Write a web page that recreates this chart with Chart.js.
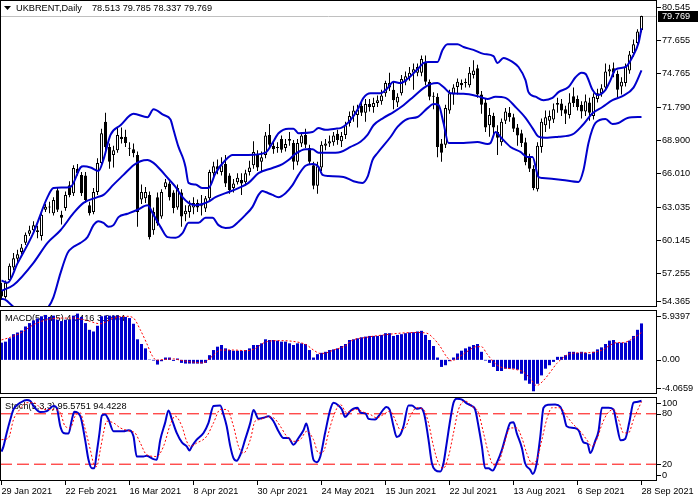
<!DOCTYPE html>
<html>
<head>
<meta charset="utf-8">
<script src="https://cdn.jsdelivr.net/npm/chart.js@4.4.1/dist/chart.umd.min.js"></script>
<style>
  body { margin: 0; background: #fff; }
  #wrap { position: relative; width: 699px; height: 500px; overflow: hidden; }
  canvas { position: absolute; left: 0; }
</style>
</head>
<body>
<div id="wrap">
  <canvas id="priceChart" width="699" height="308" style="top:0px"></canvas>
  <canvas id="macdChart" width="699" height="86" style="top:309px"></canvas>
  <canvas id="stochChart" width="699" height="104" style="top:396px"></canvas>
</div>
<script>
// daily bars, 29 Jan 2021 .. 28 Sep 2021 (index 0..160)
const opens = [55.8,55.15,56.65,57.75,58.5,59.1,59.9,60.7,61.0,61.0, 60.5,62.8,63.0,62.5,64.5,62.35,62.95,64.95,64.25,66.4,
  65.85,65.8,63.2,62.6,64.35,66.9,70.5,68.3,67.6,68.0, 69.2,69.2,68.2,68.1,67.6,63.7,63.8,64.1,61.0,63.9,
  62.2,64.8,65.1,64.3,63.0,64.3,62.4,62.6,63.0,63.4, 63.1,62.9,63.8,66.0,66.6,66.1,66.8,65.8,64.7,65.2,
  65.4,65.2,66.1,66.7,67.6,67.0,67.6,69.35,68.4,68.2, 69.0,68.2,68.85,68.65,67.0,68.6,69.35,68.2,66.7,64.9,
  66.5,68.4,68.6,68.7,69.45,68.8,69.35,70.4,71.0,71.1, 71.9,71.3,72.05,71.8,72.15,72.3,73.0,73.5,73.3,72.2,
  73.0,74.0,74.4,74.8,74.8,74.8,75.7,74.0,72.75,72.7, 68.6,68.5,71.5,72.9,73.55,73.9,73.9,73.7,74.6,75.2,
  72.9,72.2,70.2,71.0,69.6,68.7,70.6,71.3,70.9,70.0, 69.5,68.7,67.4,66.4,64.6,68.3,70.2,70.6,70.7,72.15,
  72.1,71.6,71.1,72.75,72.5,72.0,71.4,72.2,71.0,72.5, 73.0,73.5,74.9,75.2,74.7,73.6,73.9,75.0,76.5,77.4,
  78.513];
const highs = [56.4,56.6,58.1,59.0,59.3,59.8,60.8,61.4,61.8,61.4, 62.6,63.3,63.5,63.9,64.8,62.7,64.4,65.3,66.7,66.8,
  66.1,66.1,63.5,64.7,67.3,69.9,71.3,68.6,68.4,70.0, 70.0,69.8,68.7,68.6,67.9,65.0,64.8,64.4,63.0,64.3,
  64.6,65.5,65.3,64.5,65.0,64.6,63.2,63.6,63.9,63.7, 64.1,64.0,66.3,67.0,67.2,67.4,67.6,66.0,65.5,66.0,
  66.0,66.3,67.1,68.8,68.0,67.9,69.6,70.3,68.8,68.7, 69.3,69.0,69.6,68.9,69.0,69.6,69.9,68.5,67.0,67.0,
  68.8,69.0,69.3,69.6,69.8,69.6,70.5,71.4,71.9,72.0, 72.2,72.5,72.5,72.6,72.8,73.3,74.1,74.8,74.0,73.0,
  74.6,74.9,75.3,75.6,75.6,76.3,76.3,74.2,73.1,73.0, 69.0,72.0,73.3,73.8,74.3,74.2,74.3,75.3,75.9,75.5,
  73.2,72.5,71.7,71.3,70.2,70.8,71.7,71.8,71.2,70.3, 69.8,69.1,67.7,66.7,68.7,70.8,71.5,71.5,72.1,72.6,
  72.5,71.9,73.0,73.5,72.8,72.3,72.9,72.6,73.0,73.4, 73.8,75.6,75.5,75.7,75.0,74.4,75.6,76.7,77.7,78.6,
  79.785];
const lows = [54.9,55.0,56.5,57.5,58.2,58.9,59.7,60.5,60.8,60.3, 60.1,62.6,62.5,62.3,62.6,61.5,62.7,63.9,64.0,65.8,
  64.0,63.4,62.3,62.4,64.1,66.6,68.0,66.4,66.5,67.8, 68.6,68.3,67.5,67.4,61.3,63.3,63.4,60.2,60.6,61.4,
  62.0,64.6,63.6,62.5,62.8,61.3,61.8,62.1,62.4,62.6, 62.3,62.6,63.6,65.7,65.9,65.8,64.8,64.2,64.3,65.0,
  64.1,64.9,65.8,66.4,66.2,66.1,67.3,68.2,67.7,67.8, 67.8,67.9,68.4,66.3,66.7,68.3,68.2,66.8,64.6,64.2,
  66.2,68.0,68.3,68.4,68.5,68.3,69.0,70.1,70.5,70.0, 71.0,70.5,71.4,71.3,71.8,72.0,72.7,73.2,71.6,71.8,
  72.8,73.7,74.1,73.3,74.5,74.5,73.7,72.4,71.6,67.4, 67.0,68.2,71.2,72.0,72.9,73.3,73.5,73.5,74.3,72.6,
  71.2,69.6,69.2,69.3,67.6,68.4,70.3,70.5,69.6,68.4, 68.3,66.7,66.1,64.5,64.4,67.8,69.6,69.9,70.4,71.3,
  71.0,70.3,70.8,71.8,71.5,70.8,71.0,70.6,70.7,72.2, 72.7,73.2,74.5,74.4,72.6,72.9,73.6,74.7,76.2,77.1,
  78.337];
const closes = [55.2,56.4,57.9,58.55,58.9,59.5,60.6,61.0,61.45,60.85, 62.35,63.05,63.05,63.65,62.8,62.1,64.1,64.1,66.45,66.0,
  64.25,63.65,62.5,64.35,66.9,69.5,68.3,67.0,68.0,69.35, 69.0,68.65,68.15,67.75,62.6,64.35,64.35,60.4,62.6,61.6,
  64.35,65.2,63.9,62.95,64.7,62.2,62.7,63.2,63.4,63.0, 63.2,63.8,66.1,66.6,66.3,66.7,65.1,64.5,65.1,65.6,
  65.1,66.0,66.5,67.85,66.5,67.4,69.3,68.5,68.1,68.2, 68.05,68.55,69.0,67.0,68.65,69.3,68.5,67.0,64.9,66.6,
  68.5,68.6,68.8,69.3,68.9,69.25,70.2,71.0,71.5,71.55, 71.3,72.05,71.8,72.15,72.4,72.8,73.9,73.9,72.4,72.7,
  74.25,74.5,74.8,75.1,75.3,76.0,74.0,72.7,72.7,68.3, 67.8,71.7,73.0,73.5,74.0,73.7,73.9,74.8,75.0,72.9,
  72.0,70.0,71.1,70.0,69.1,70.5,71.4,70.9,69.9,69.3, 68.65,66.95,66.4,64.7,68.4,70.5,70.9,71.0,71.6,72.0,
  71.5,71.2,72.2,72.15,71.8,71.4,72.3,71.3,72.7,73.0, 73.45,74.9,75.1,74.8,73.3,74.0,75.3,76.4,77.3,78.4,
  79.769];

// Bollinger bands: [bar index, price]
const upperBand = [[0,56.6],[1.5,56.4],[4,58.1],[8,60.8],[11.5,63.9],[13,64.7],[17.25,64.8],[19.75,66.5],[20.5,66.6],[22.25,66.5],
  [24.25,66.2],[25.5,67.2],[27.25,69.35],[29.75,70.2],[33,71.2],[36.5,70.9],[38,71.6],[40.5,71.1],[42.25,70.7],[43,69.8],
  [44.25,68.3],[45.5,67.2],[46,66.55],[46.75,65.15],[48.5,65.0],[50.25,64.7],[51.75,64.7],[53.5,66.0],[56,67.15],[57.75,67.6],
  [61.75,67.6],[66,67.8],[67.75,68.65],[69.25,69.5],[71.75,69.9],[73,69.9],[74.25,69.5],[77.75,69.6],[79.25,69.95],[81,69.8],
  [83.5,69.9],[84.75,69.95],[87.25,70.65],[89,71.55],[90.5,72.6],[92.25,73.0],[94.75,73.0],[96.5,73.45],[98,74.0],[99.75,73.9],
  [101.5,74.25],[104,75.1],[105.5,75.65],[106.75,75.75],[109,75.75],[110.25,76.8],[111.5,77.3],[114,77.3],[115.5,77.05],[118,76.8],
  [120.5,76.45],[123,76.25],[124,75.65],[125.5,76.1],[127.75,75.75],[129.25,75.3],[131,74.15],[131.75,73.1],[133.5,72.7],[135.5,72.4],
  [137.75,72.6],[139.25,73.1],[141.75,73.55],[143.5,74.4],[145,74.8],[146,74.7],[147.75,73.3],[149,72.85],[151,73.3],[152.25,74.15],
  [153.5,75.1],[156,75.3],[157.75,76.2],[159.25,77.4],[160,78.7]];
const middleBand = [[0,55.7],[3,56.2],[8,58.15],[11.5,59.9],[14.75,61.0],[18,62.5],[20.5,63.4],[24,63.9],[25.5,64.1],[28,65.0],
  [30.5,65.85],[33,66.7],[34.75,67.05],[36.5,67.15],[38,66.9],[39.75,66.3],[41.5,65.6],[43.5,64.8],[45.25,63.9],[46.75,63.4],
  [48.5,63.2],[50.25,63.3],[51.75,63.5],[53.5,63.9],[56,64.25],[59.25,64.7],[61.75,65.15],[64.25,66.0],[67.75,66.45],[70.25,66.8],
  [71.75,67.15],[73.5,67.7],[76,68.1],[77.75,68.1],[79.25,67.8],[83.5,67.8],[84.75,67.85],[87.25,68.3],[89.75,68.75],[91.5,69.35],
  [93,70.2],[95.5,70.85],[98,71.35],[100.5,71.95],[103,72.7],[105.5,73.45],[107.25,73.8],[109,73.9],[110.5,73.55],[112.25,73.0],
  [115.5,72.95],[119,72.75],[121.5,72.5],[123.5,72.7],[126,72.6],[128.5,71.8],[131,70.85],[132.75,69.95],[134.25,69.2],[136,69.1],
  [139.25,69.2],[142.75,69.4],[145.25,70.2],[147.75,71.25],[150.25,71.8],[152.75,72.4],[155.25,72.75],[158,73.5],[160,75.0]];
const lowerBand = [[0,55.0],[1,54.9],[3,54.3],[6,53.8],[9,53.8],[11.75,54.3],[13,55.15],[14.75,57.25],[16.5,59.0],[18,59.55],
  [19.75,59.9],[21.5,60.4],[23,61.45],[24.25,61.8],[25.5,61.65],[26.75,61.3],[28,61.45],[29.25,62.15],[31.5,62.45],[34,62.8],
  [36.5,63.2],[38,62.35],[39.75,61.3],[41.5,60.4],[43.5,60.35],[45.25,60.75],[46.75,61.65],[49.25,61.65],[51,62.1],[52.75,62.1],
  [54.25,61.45],[56,61.2],[57.75,61.3],[59.25,61.75],[61,62.35],[62.75,63.05],[64.25,64.1],[65.25,64.45],[66,64.35],[67.75,64.1],
  [69.25,63.9],[71,64.25],[72.75,64.95],[74.25,65.85],[76,66.65],[77.75,66.8],[79.25,66.55],[80.25,65.85],[81.75,65.75],[85.5,65.67],
  [88,65.3],[90.25,65.15],[91.5,65.67],[92.75,67.15],[94,67.77],[97.25,69.17],[99,70.05],[101.5,70.75],[104,70.92],[106.5,71.7],
  [108,72.06],[109.25,71.98],[110.5,70.4],[111.75,68.65],[115.5,68.65],[119,68.73],[121.5,68.56],[122.25,68.65],[123.5,69.61],[124.75,69.17],
  [127.25,68.3],[129.75,67.86],[131.5,67.42],[132.75,67.42],[134.25,65.67],[135.25,65.58],[140.25,65.41],[144.25,65.23],[145.5,66.28],[146.75,68.65],
  [148.5,70.4],[151,70.75],[152.75,70.31],[154.25,70.4],[156.5,70.84],[160,70.92]];

// MACD histogram, one value per bar
const macd = [2.05,2.17,2.57,3.06,3.26,3.50,3.98,4.38,4.70,4.94, 5.19,5.35,5.11,5.27,4.78,4.62,4.78,4.78,5.27,5.51,
  5.11,4.38,3.58,3.38,4.06,5.19,5.27,5.27,5.27,5.27, 5.11,5.11,4.98,4.30,2.45,1.89,1.37,0.04,-0.08,-0.56,
  -0.16,0.28,0.28,-0.12,0.16,-0.36,-0.44,-0.44,-0.44,-0.44, -0.44,-0.36,0.56,1.17,1.57,1.77,1.37,1.17,1.09,1.09,
  1.09,1.17,1.37,1.77,1.77,1.97,2.45,2.37,2.37,2.29, 2.17,2.17,1.97,1.77,1.97,1.97,1.89,1.17,0.28,0.68,
  0.84,0.96,1.17,1.25,1.37,1.65,1.89,2.37,2.45,2.57, 2.69,2.77,2.85,2.85,2.85,2.97,3.18,3.18,2.85,2.97,
  3.06,3.18,3.26,3.30,3.38,3.46,2.97,2.37,1.65,0.28, -0.84,-0.64,-0.16,0.28,0.76,1.09,1.37,1.57,1.77,1.89,
  0.96,-0.08,-0.36,-0.84,-1.33,-1.33,-1.05,-1.05,-1.05,-1.17, -1.65,-2.45,-2.85,-3.74,-2.85,-1.85,-1.05,-0.64,-0.24,0.36,
  0.36,0.56,0.96,0.96,0.84,0.96,0.84,0.68,0.96,1.25, 1.49,1.89,2.29,2.37,2.05,2.05,2.05,2.29,2.85,3.58,
  4.3416];
const macdSignal = [[0,2.37],[2.2,2.69],[4.7,3.18],[8,4.18],[11.3,4.78],[14.7,4.98],[18,4.98],[21.3,4.70],[24.7,4.30],[28,4.98],
  [31.3,5.19],[33,4.98],[34.7,3.58],[36.3,1.97],[37.6,0.56],[38.8,-0.04],[40.5,0.04],[43,0.12],[44.7,-0.04],[48,-0.28],
  [50.5,-0.36],[51.3,-0.12],[53,0.56],[54.7,1.17],[58,1.17],[61.3,1.09],[63,1.25],[66.3,2.17],[69.7,2.29],[74.7,2.05],
  [76.3,1.77],[78,1.17],[79.7,0.76],[81.3,0.84],[83,1.17],[86.3,1.77],[87.2,2.2],[91.3,2.69],[95.5,2.97],[99.7,3.18],
  [103.8,3.26],[106.3,3.18],[108,2.57],[109.7,1.57],[111.3,0.36],[112.6,-0.12],[113.8,0.16],[116.3,0.96],[118.8,1.57],[120,1.57],
  [121.3,0.76],[123,-0.24],[124.7,-0.84],[127.2,-1.05],[128.8,-1.17],[130.5,-1.45],[132.2,-2.25],[133.8,-3.06],[135.5,-2.45],[137.2,-1.45],
  [138.8,-0.44],[140.5,0.28],[142.2,0.76],[145.5,0.84],[148.8,0.96],[150.5,1.25],[152.2,1.77],[153.8,2.05],[155.5,2.05],[157.2,2.37],
  [160,3.2464]];

// Stochastic %K and %D
const stochMain = [[0,35],[0.5,41.2],[1.3,57.2],[2.2,73.2],[3,85.2],[3.8,90],[4.7,93.2],[6.3,96.4],[7.2,95.2],[8,89.2],
  [9.7,82],[11.3,83.2],[13,89.2],[13.8,87.2],[14.7,65.2],[15.5,57.2],[16.75,56.4],[17.6,73.2],[18.2,82.4],[19.7,77.2],
  [20.9,49.2],[21.75,25.2],[22.6,15.2],[23.2,15.2],[23.8,33.2],[24.5,57.2],[25.1,78],[25.9,79.2],[26.75,73.2],[28,59.2],
  [30.5,59.2],[31.75,60.4],[33,53.2],[33.8,29.2],[35.5,29.2],[36.3,30],[38,26],[38.8,25.2],[39.7,49.2],[40.9,69.2],
  [41.75,84],[42.6,73.2],[43.8,57.2],[45.1,46],[46.3,41.2],[47,36.4],[47.6,41.2],[48.8,49.2],[50.5,57.2],[51.75,69.2],
  [53,89.2],[54.7,90],[55.5,79.2],[56.3,65.2],[57.2,41.2],[58,27.2],[58.8,24],[59.7,31.2],[60.9,49.2],[62.2,69.2],
  [63,84.4],[64.25,74],[65.5,75.2],[66.75,77.2],[68,71.2],[69.25,59.2],[70.5,51.2],[71.75,51.2],[73,43.2],[74.25,51.2],
  [75.5,60.4],[76.2,68.4],[77,53.2],[78,25.2],[78.8,22.4],[79.7,29.2],[80.9,57.2],[82.2,85.2],[83,93.2],[84.25,90],
  [85.1,85.2],[85.9,76.4],[87.2,83.2],[88,86],[89,87.2],[89.8,81.2],[91,80.4],[91.75,74],[93.4,73.2],[94.25,77.2],
  [95.5,85.2],[96.2,88],[97,85.2],[98,65.2],[98.8,52.4],[99.7,55.2],[100.5,65.2],[101.75,90],[102.6,90],[103.8,86],
  [104.8,86.8],[105.7,79.2],[106.75,49.2],[107.6,21.2],[108.4,13.2],[109.7,11.2],[110.5,21.2],[111.3,45.2],[112.2,73.2],[113,93.2],
  [113.8,98],[115,97.2],[116.3,92.4],[117.6,89.2],[118.4,85.2],[119.25,65.2],[120.1,41.2],[120.9,15.2],[121.75,15.2],[122.8,12.4],
  [123.8,21.2],[125.1,37.2],[126.3,57.2],[127.2,69.2],[128,70],[128.8,57.2],[130.1,39.2],[130.9,21.2],[132.2,13.2],[132.8,8.4],
  [133.8,21.2],[134.7,53.2],[135.5,87.2],[136.75,90.8],[138.4,91.2],[139.7,88.4],[140.5,79.2],[141.3,65.2],[143,63.2],[144.25,60.4],
  [145.5,46],[146.5,44.4],[147.2,33.2],[148.4,47.2],[149.25,59.2],[150.1,87.2],[151.75,87.2],[153,85.2],[153.8,67.2],[154.8,48.4],
  [155.9,50],[157,71.2],[158,93.2],[158.8,94],[160,95.5751]];
const stochSignal = [[0,49.2],[1.75,51.2],[3,73.2],[4.25,83.2],[6.3,93.2],[8,93.2],[10.5,85.2],[13,85.2],[14.7,81.2],[15.9,65.2],
  [17.2,63.2],[18.4,77.2],[19.7,81.2],[20.5,69.2],[22.2,37.2],[23,21.2],[23.8,17.2],[24.7,37.2],[25.5,57.2],[26.3,71.2],
  [28,69.2],[29.7,63.2],[32.2,59.2],[33.4,57.2],[34.7,45.2],[36.3,31.2],[38.8,29.2],[40.5,41.2],[42.2,67.2],[43.4,77.2],
  [45.1,65.2],[46.3,47.2],[47.2,41.2],[48.8,45.2],[51.3,53.2],[53,69.2],[54.7,85.2],[56.3,85.2],[58,65.2],[59.25,41.2],
  [60.5,33.2],[62.2,49.2],[63.4,71.2],[64.7,73.2],[66.3,76.4],[68,75.2],[69.7,65.2],[71.3,53.2],[73,47.2],[74.7,49.2],
  [76.3,59.2],[78,49.2],[79.25,33.2],[80.5,35.2],[81.75,57.2],[83,77.2],[84.7,91.2],[86.3,81.2],[87.2,83.2],[88.8,85.2],
  [90.5,82],[92.2,79.2],[93.8,75.2],[95.5,79.2],[97.2,83.2],[98.4,73.2],[99.7,61.2],[100.9,63.2],[102.2,77.2],[103.8,87.2],
  [105.5,85.2],[106.75,69.2],[108,41.2],[109.25,21.2],[110.5,15.2],[111.75,29.2],[113,57.2],[114.25,85.2],[115.9,95.2],[117.6,89.2],
  [119.25,81.2],[120.5,57.2],[121.75,33.2],[123,19.2],[124.25,21.2],[125.5,41.2],[127.2,63.2],[128.8,63.2],[130.1,51.2],[131.3,33.2],
  [132.6,21.2],[133.8,25.2],[135.1,49.2],[136.3,73.2],[137.6,87.2],[139.7,87.2],[141.3,77.2],[143,67.2],[144.7,59.2],[146.3,49.2],
  [147.6,41.2],[148.8,49.2],[150.1,67.2],[151.3,79.2],[153,85.2],[154.25,73.2],[155.5,57.2],[156.75,57.2],[158,73.2],[160,94.4228]];

// axis labels
const dateLabels = ['29 Jan 2021','22 Feb 2021','16 Mar 2021','8 Apr 2021','30 Apr 2021','24 May 2021',
  '15 Jun 2021','22 Jul 2021','13 Aug 2021','6 Sep 2021','28 Sep 2021'];
const dateIndex = [0,16,32,48,64,80,96,112,128,144,160];
const priceTicks = [80.545,77.655,74.765,71.790,68.900,66.010,63.035,60.145,57.255,54.365];
const macdTicks = [5.9397,0,-4.0659];
const macdTickText = ['5.9397','0.00','-4.0659'];
const stochTicks = [100,80,20,0];
const stochLevels = [80,20];

const BLUE = '#0000CD';
const RED = '#FF0000';
const FAMILY = '"Liberation Sans", Arial, sans-serif';
const FONT = '9.2px ' + FAMILY;
const X_MIN = -0.375, X_MAX = 163.875;
const last = closes.length - 1;

const panelDecor = {
  id: 'panelDecor',
  beforeDatasetsDraw(chart, args, o) {
    const { ctx, chartArea: a } = chart;
    ctx.save();
    if (o.priceLine != null) {
      const y = Math.round(chart.scales.y.getPixelForValue(o.priceLine)) + 0.5;
      ctx.strokeStyle = '#c0c0c0';
      ctx.lineWidth = 1;
      ctx.beginPath(); ctx.moveTo(a.left, y); ctx.lineTo(a.right, y); ctx.stroke();
    }
    ctx.font = FONT;
    ctx.fillStyle = '#000';
    ctx.textBaseline = 'middle';
    (o.title || []).forEach(t => ctx.fillText(t.text, t.x, t.y));
    if (o.arrow) {
      ctx.beginPath(); ctx.moveTo(4, 6); ctx.lineTo(11, 6); ctx.lineTo(7.5, 10); ctx.closePath(); ctx.fill();
    }
    ctx.restore();
  },
  afterDraw(chart, args, o) {
    const { ctx, chartArea: a } = chart;
    const ys = chart.scales.y;
    ctx.save();
    ctx.strokeStyle = '#000';
    ctx.lineWidth = 1;
    ctx.strokeRect(a.left + 0.5, a.top + 0.5, a.right - a.left - 1, a.bottom - a.top - 1);
    ctx.font = FONT;
    ctx.textBaseline = 'middle';
    ctx.textAlign = 'left';
    ctx.fillStyle = '#000';
    (o.ticks || []).forEach((v, k) => {
      let y = ys.getPixelForValue(v);
      y = Math.min(Math.max(y, a.top + 6), a.bottom - 6);
      const yy = Math.round(y) + 0.5;
      ctx.beginPath(); ctx.moveTo(a.right, yy); ctx.lineTo(a.right + 4, yy); ctx.stroke();
      ctx.fillText(o.tickText[k], a.right + 5, y);
    });
    if (o.priceLine != null) {
      const y = Math.round(ys.getPixelForValue(o.priceLine));
      ctx.fillStyle = '#000';
      ctx.fillRect(a.right + 1, y - 5, 40, 11);
      ctx.fillStyle = '#fff';
      ctx.fillText(o.priceLine.toFixed(3), a.right + 5, y + 0.5);
    }
    ctx.restore();
  }
};

function lineDs(pairs, color, width, dash, order) {
  return {
    type: 'line',
    data: pairs.map(p => ({ x: p[0], y: p[1] })),
    borderColor: color, borderWidth: width, borderDash: dash || [],
    pointRadius: 0, fill: false, cubicInterpolationMode: 'monotone', order: order
  };
}

function baseOptions(yMin, yMax, padding, decor) {
  return {
    responsive: false, animation: false, events: [],
    layout: { padding: padding },
    plugins: { legend: { display: false }, tooltip: { enabled: false }, panelDecor: decor },
    scales: {
      x: { type: 'linear', min: X_MIN, max: X_MAX, offset: false, display: false },
      y: { type: 'linear', min: yMin, max: yMax, display: false }
    }
  };
}

Chart.register(panelDecor);

const idx = closes.map((c, i) => i);
const bodyFill = idx.map(i => closes[i] >= opens[i] ? '#fff' : '#000');

new Chart(document.getElementById('priceChart'), {
  type: 'bar',
  data: { datasets: [
    lineDs(upperBand, BLUE, 2, null, 0),
    lineDs(middleBand, BLUE, 2, null, 0),
    lineDs(lowerBand, BLUE, 2, null, 0),
    { type: 'bar', data: idx.map(i => ({ x: i, y: [opens[i], closes[i]] })),
      backgroundColor: bodyFill, borderColor: '#000', borderWidth: 1, borderSkipped: false,
      barThickness: 3, minBarLength: 1, grouped: false, inflateAmount: 0, order: 1 },
    { type: 'bar', data: idx.map(i => ({ x: i, y: [lows[i], highs[i]] })),
      backgroundColor: '#000', borderWidth: 0, barThickness: 1, grouped: false, inflateAmount: 0, order: 2 }
  ]},
  options: baseOptions(54.28, 81.17, { top: 0, bottom: 1, left: 0, right: 42 }, {
    arrow: true,
    title: [
      { text: 'UKBRENT,Daily', x: 16, y: 8.5 },
      { text: [opens[last], highs[last], lows[last], closes[last]].map(v => v.toFixed(3)).join(' '), x: 92, y: 8.5 }
    ],
    ticks: priceTicks, tickText: priceTicks.map(v => v.toFixed(3)),
    priceLine: closes[last]
  })
});

new Chart(document.getElementById('macdChart'), {
  type: 'bar',
  data: { datasets: [
    lineDs(macdSignal, RED, 1, [2, 2], 0),
    { type: 'bar', data: idx.map(i => ({ x: i, y: macd[i] })), backgroundColor: BLUE,
      borderWidth: 0, barThickness: 3, inflateAmount: 0, order: 1 }
  ]},
  options: baseOptions(macdTicks[2], macdTicks[0], { top: 1, bottom: 1, left: 0, right: 42 }, {
    title: [{ text: 'MACD(5,34,5) ' + macd[last].toFixed(4) + ' ' + macdSignal[macdSignal.length - 1][1].toFixed(4), x: 5, y: 9.5 }],
    ticks: macdTicks, tickText: macdTickText
  })
});

const stochOpts = baseOptions(0, 100, { top: 1, bottom: 0, left: 0, right: 42 }, {
  title: [{ text: 'Stoch(5,3,3) ' + stochMain[stochMain.length - 1][1].toFixed(4) + ' ' + stochSignal[stochSignal.length - 1][1].toFixed(4), x: 5, y: 10 }],
  ticks: stochTicks, tickText: stochTicks.map(String)
});
stochOpts.scales.x = {
  type: 'linear', min: X_MIN, max: X_MAX, offset: false, display: true,
  afterBuildTicks: s => { s.ticks = dateIndex.map(v => ({ value: v })); },
  afterFit: s => { s.height = 19; s.paddingLeft = 0; s.paddingRight = 0; },
  ticks: { autoSkip: false, maxRotation: 0, minRotation: 0, align: 'start', padding: 1, color: '#000',
    font: { family: FAMILY, size: 9.2 }, callback: v => dateLabels[dateIndex.indexOf(v)] },
  grid: { display: true, drawOnChartArea: false, drawTicks: true, tickLength: 4, color: '#000' },
  border: { display: false }
};

new Chart(document.getElementById('stochChart'), {
  type: 'line',
  data: { datasets: [
    lineDs(stochSignal, RED, 1, [2, 2], 0),
    lineDs(stochMain, BLUE, 2, null, 1),
    ...stochLevels.map(v => lineDs([[X_MIN, v], [X_MAX, v]], RED, 1, [12, 5], 2))
  ]},
  options: stochOpts
});
</script>
</body>
</html>
